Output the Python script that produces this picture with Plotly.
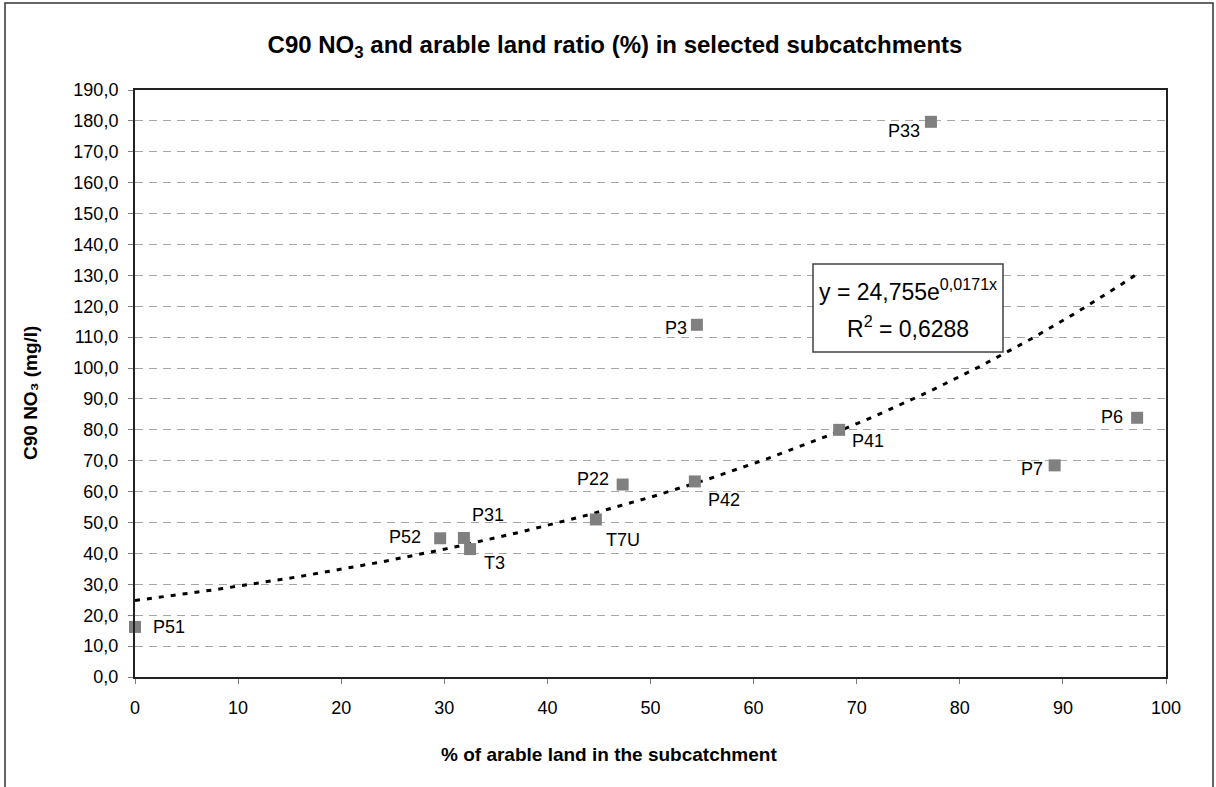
import numpy as np
import plotly.graph_objects as go

# ---- data ----
site_labels = ["P51", "P52", "P31", "T3", "T7U", "P22", "P42", "P3", "P41", "P33", "P7", "P6"]
arable_pct = [0.0, 29.6, 31.9, 32.5, 44.7, 47.3, 54.3, 54.5, 68.3, 77.2, 89.2, 97.2]
c90_no3 = [16.2, 44.9, 45.0, 41.4, 51.0, 62.3, 63.3, 114.0, 80.0, 179.7, 68.5, 83.9]

# label offsets in pixels (styling, not data)
label_dx = [34, -35, 24, 24, 27, -30, 29, -21, 29, -27, -23, -25]
label_dy = [0, -1, -23, 14, 21, -6, 19, 3, 11, 9, 4, -1]

# exponential trendline coefficients shown on the chart
trend_a = 24.755
trend_b = 0.0171
r_squared = "0,6288"

y_ticks = list(range(0, 191, 10))
y_ticktext = [f"{v},0" for v in y_ticks]
x_ticks = list(range(0, 101, 10))

FONT = "Liberation Sans, Arial, sans-serif"

trend_x = np.linspace(0, max(arable_pct), 200)
trend_y = trend_a * np.exp(trend_b * trend_x)

fig = go.Figure()
fig.add_trace(go.Scatter(
    x=trend_x, y=trend_y, mode="lines",
    line=dict(color="black", width=3, dash="5px,7px"),
    hoverinfo="skip", showlegend=False))
fig.add_trace(go.Scatter(
    x=arable_pct, y=c90_no3, mode="markers",
    marker=dict(symbol="square", size=12, color="#808080"),
    cliponaxis=False, showlegend=False, text=site_labels))

L, R, T, B = 135, 50, 90, 110
W, H = 1216, 787
pw, ph = W - L - R, H - T - B

def px_to_paper(px, py):
    return (px - L) / pw, (H - B - py) / ph

x0, y0 = px_to_paper(5, 3)
x1, y1 = px_to_paper(1213, 792)
bx0, by0 = px_to_paper(813, 264)
bx1, by1 = px_to_paper(1003, 352)

annotations = [
    dict(text="<b>% of arable land in the subcatchment</b>", xref="paper", yref="paper",
         x=px_to_paper(609, 0)[0], y=px_to_paper(0, 755)[1], showarrow=False,
         xanchor="center", yanchor="middle", font=dict(family=FONT, size=19)),
    dict(text="<b>C90 NO₃ (mg/l)</b>", xref="paper", yref="paper", textangle=-90,
         x=px_to_paper(30, 0)[0], y=px_to_paper(0, 393)[1], showarrow=False,
         xanchor="center", yanchor="middle", font=dict(family=FONT, size=19)),
    dict(text=f"y = {str(trend_a).replace('.', ',')}e<sup>{str(trend_b).replace('.', ',')}x</sup>",
         xref="paper", yref="paper",
         x=px_to_paper(908, 0)[0], y=px_to_paper(0, 290)[1], showarrow=False,
         xanchor="center", yanchor="middle", font=dict(family=FONT, size=23, color="black")),
    dict(text=f"R<sup>2</sup> = {r_squared}",
         xref="paper", yref="paper",
         x=px_to_paper(908, 0)[0], y=px_to_paper(0, 327)[1], showarrow=False,
         xanchor="center", yanchor="middle", font=dict(family=FONT, size=23, color="black")),
]
for lab, xv, yv, dx, dy in zip(site_labels, arable_pct, c90_no3, label_dx, label_dy):
    annotations.append(dict(text=lab, x=xv, y=yv, xref="x", yref="y", showarrow=False,
                            xshift=dx, yshift=-dy, xanchor="center", yanchor="middle",
                            font=dict(family=FONT, size=18, color="black")))

fig.update_layout(
    width=W, height=H,
    margin=dict(l=L, r=R, t=T, b=B),
    paper_bgcolor="white", plot_bgcolor="white",
    font=dict(family=FONT, size=18, color="black"),
    title=dict(text="<b>C90 NO<sub>3</sub> and arable land ratio (%) in selected subcatchments</b>",
               x=615 / W, xanchor="center", y=1 - 45 / H, yanchor="middle",
               font=dict(family=FONT, size=24, color="black")),
    xaxis=dict(range=[0, 100], tickvals=x_ticks, ticks="outside", ticklen=5,
               tickcolor="#808080", showgrid=False, zeroline=False,
               showline=True, linecolor="#222", linewidth=2, mirror=True,
               ticklabelstandoff=8, tickfont=dict(size=18)),
    yaxis=dict(range=[0, 190], tickvals=y_ticks, ticktext=y_ticktext, ticks="outside",
               ticklen=5, tickcolor="#808080", showgrid=True, gridcolor="#a6a6a6",
               griddash="8px,6px", gridwidth=1, zeroline=False,
               showline=True, linecolor="#222", linewidth=2, mirror=True,
               ticklabelstandoff=6, tickfont=dict(size=18)),
    shapes=[dict(type="rect", xref="paper", yref="paper", x0=x0, y0=y1, x1=x1, y1=y0,
                 line=dict(color="#333", width=1.5), fillcolor="rgba(0,0,0,0)", layer="above"),
            dict(type="rect", xref="paper", yref="paper", x0=bx0, y0=by1, x1=bx1, y1=by0,
                 line=dict(color="#404040", width=1.5), fillcolor="white", layer="above")],
    annotations=annotations,
)

fig.write_html("out.html", config={"displayModeBar": False},
               post_script="document.body.style.margin='0';")
